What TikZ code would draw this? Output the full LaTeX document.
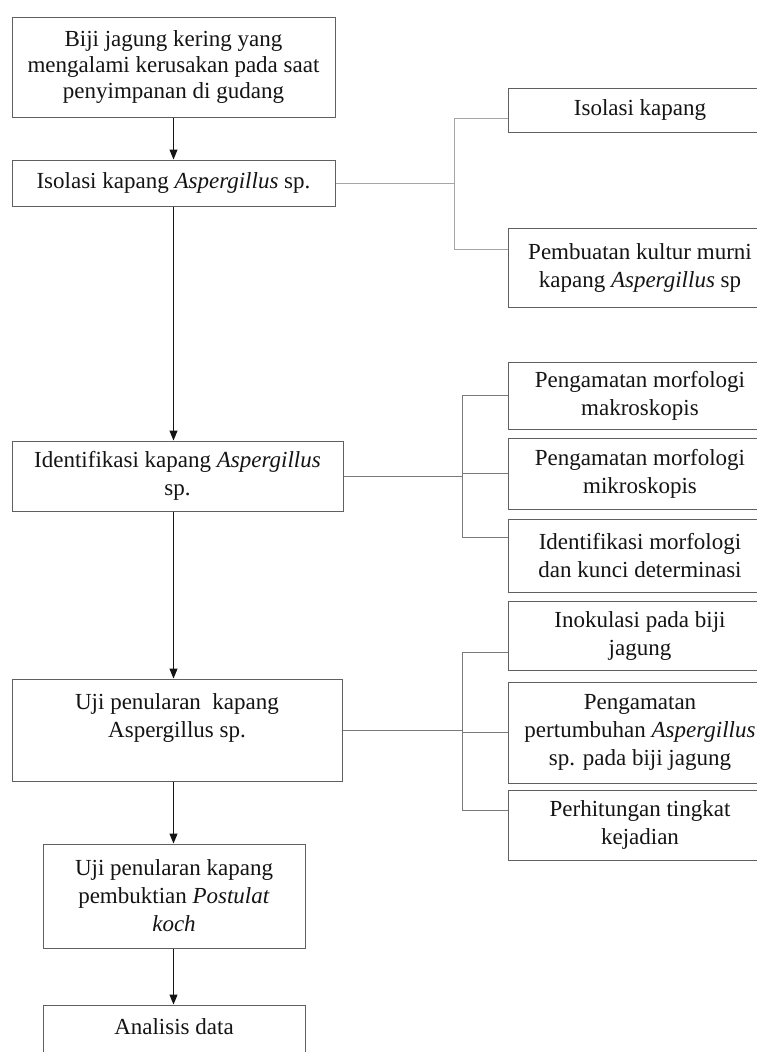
\documentclass[tikz,border=0pt]{standalone}
\usepackage{fontspec}
\setmainfont{Liberation Serif}
\usepackage{xcolor}
\usepackage{tikz}
\usetikzlibrary{arrows.meta,calc,positioning}
\definecolor{edge}{HTML}{606060}
\definecolor{ink}{HTML}{141414}
\definecolor{linkgray}{HTML}{7A7A7A}
\definecolor{lightlink}{HTML}{A5A5A5}
\tikzset{
  flow/.style={-{Triangle[length=10pt,width=8pt]},line width=1pt,draw=ink},
  branch/.style={line width=1pt,draw=linkgray},
  lightbranch/.style={branch,draw=lightlink},
  box/.style={draw=edge,line width=1pt,align=center,inner sep=2pt,text=ink,
              font=\fontsize{23}{28}\selectfont},
  stage/.style={box,minimum width=323pt},
  sub/.style={box,minimum width=264pt}
}

\begin{document}
\begin{tikzpicture}[x=1pt,y=-1pt]
  \path[use as bounding box,fill=white] (0,0) rectangle (756,1052);
  % main column
  \node[stage,minimum height=100pt,font=\fontsize{23}{26}\selectfont] (b1) at (173.5,67) {Biji jagung kering yang\\mengalami kerusakan pada saat\\penyimpanan di gudang};
  \node[stage,minimum height=46pt] (b2) at (173.5,183) {Isolasi kapang \textit{Aspergillus} sp.};
  \node[stage,minimum width=331pt,minimum height=70pt] (b3) at (177.5,476) {Identifikasi kapang \textit{Aspergillus}\\sp.};
  \node[stage,minimum width=330pt,minimum height=102pt] (b4) at (177,730) {Uji penularan\ \ kapang\\Aspergillus sp.\\\mbox{}};
  \node[stage,minimum width=262pt,minimum height=104pt] (b5) at (174,896) {Uji penularan kapang\\pembuktian \textit{Postulat}\\\textit{koch}};
  \node[stage,minimum width=262pt,minimum height=72pt] (b6) at (174,1041) {Analisis data\\\mbox{}};
  \foreach \a/\b in {b1/b2,b2/b3,b3/b4,b4/b5,b5/b6}{
    \draw[flow] (\a.south -| b1) -- (\b.north -| b1);
  }
  % side steps
  \node[sub,minimum height=44pt] (r1) at (640,110) {Isolasi kapang};
  \node[sub,minimum height=79pt] (r2) at (640,267.5) {Pembuatan kultur murni\\kapang \textit{Aspergillus} sp};
  \node[sub,minimum height=67pt] (m1) at (640,395.5) {Pengamatan morfologi\\makroskopis};
  \node[sub,minimum height=71pt] (m2) at (640,473.5) {Pengamatan morfologi\\mikroskopis};
  \node[sub,minimum height=73pt] (m3) at (640,555.5) {Identifikasi morfologi\\dan kunci determinasi};
  \node[sub,minimum height=69pt] (u1) at (640,635.5) {Inokulasi pada biji\\jagung};
  \node[sub,minimum height=101pt] (u2) at (640,732.5) {Pengamatan\\pertumbuhan \textit{Aspergillus}\\sp. pada biji jagung};
  \node[sub,minimum height=70pt] (u3) at (640,825) {Perhitungan tingkat\\kejadian};
  \coordinate (j1) at ($(b2.east)+(119,0)$);
  \coordinate (j2) at ($(b3.east)+(119,0)$);
  \coordinate (j3) at ($(b4.east)+(120,0)$);
  \draw[lightbranch] (b2.east) -- (j1);
  \foreach \n/\s in {r1/-8,r2/18}{\draw[lightbranch] ([yshift=\s pt]\n.west) -| (j1);}
  \draw[branch] (b3.east) -- (j2);
  \foreach \n/\s in {m1/0,m2/0,m3/18}{\draw[branch] ([yshift=\s pt]\n.west) -| (j2);}
  \draw[branch] (b4.east) -- (j3);
  \foreach \n/\s in {u1/-17,u2/0,u3/15}{\draw[branch] ([yshift=\s pt]\n.west) -| (j3);}
\end{tikzpicture}
\end{document}
